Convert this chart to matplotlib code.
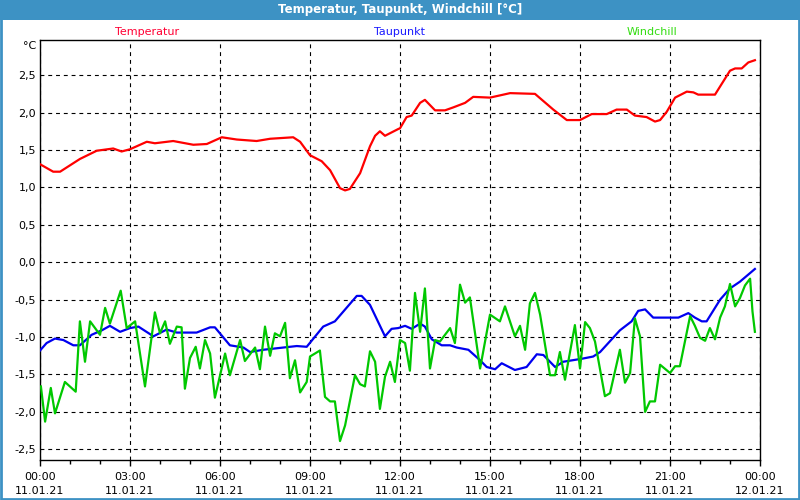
import matplotlib
matplotlib.use("Agg")
import matplotlib.pyplot as plt
from matplotlib.patches import Rectangle
from matplotlib.ticker import FixedLocator, MultipleLocator, FuncFormatter

# Stunden seit 11.01.21 00:00 und Werte in °C
temp_h = [0.0, 0.44, 0.67, 1.33, 1.89, 2.44, 2.72, 3.0, 3.56, 3.83, 4.44, 5.11, 5.56,
          6.06, 6.56, 7.22, 7.67, 8.44, 8.67, 9.0, 9.39, 9.67, 10.0, 10.17, 10.33,
          10.67, 11.0, 11.17, 11.33, 11.5, 11.94, 12.0, 12.22, 12.39, 12.67, 12.83,
          13.17, 13.5, 13.78, 14.17, 14.44, 15.0, 15.67, 16.5, 17.11, 17.56, 18.0,
          18.39, 18.89, 19.22, 19.56, 19.83, 20.22, 20.5, 20.67, 20.89, 21.17, 21.56,
          21.78, 21.94, 22.5, 23.0, 23.17, 23.39, 23.61, 23.83]
temp_v = [1.31, 1.21, 1.21, 1.38, 1.49, 1.52, 1.48, 1.51, 1.61, 1.59, 1.62, 1.57, 1.58,
          1.67, 1.64, 1.62, 1.65, 1.67, 1.61, 1.43, 1.35, 1.23, 0.99, 0.96, 0.98,
          1.19, 1.55, 1.69, 1.75, 1.69, 1.78, 1.79, 1.94, 1.96, 2.13, 2.17,
          2.03, 2.03, 2.07, 2.13, 2.21, 2.20, 2.26, 2.25, 2.04, 1.90, 1.90,
          1.98, 1.98, 2.04, 2.04, 1.96, 1.94, 1.88, 1.90, 2.01, 2.20, 2.28,
          2.27, 2.24, 2.24, 2.56, 2.59, 2.59, 2.67, 2.70]

taup_h = [0.0, 0.22, 0.5, 0.78, 1.11, 1.33, 1.72, 2.06, 2.33, 2.67, 3.0, 3.28, 3.78,
          4.22, 4.56, 5.22, 5.67, 5.83, 6.33, 6.78, 7.0, 7.44, 8.11, 8.56, 8.89,
          9.44, 9.83, 10.56, 10.72, 11.0, 11.5, 11.72, 11.94, 12.17, 12.39, 12.67,
          12.83, 13.06, 13.39, 13.67, 13.89, 14.28, 14.67, 14.89, 15.17, 15.39, 15.83,
          16.22, 16.56, 16.78, 17.17, 17.44, 18.06, 18.44, 18.67, 19.33, 19.72, 19.94,
          20.17, 20.44, 20.78, 21.28, 21.61, 21.83, 22.06, 22.22, 22.67, 23.0, 23.33,
          23.83]
taup_v = [-1.18, -1.08, -1.02, -1.04, -1.11, -1.11, -0.97, -0.91, -0.85, -0.93, -0.88,
          -0.86, -0.99, -0.90, -0.94, -0.94, -0.87, -0.87, -1.11, -1.14, -1.20, -1.17,
          -1.14, -1.12, -1.13, -0.86, -0.79, -0.45, -0.45, -0.57, -0.99, -0.89, -0.88,
          -0.85, -0.89, -0.82, -0.86, -1.03, -1.11, -1.11, -1.14, -1.17, -1.31, -1.40,
          -1.43, -1.35, -1.44, -1.40, -1.23, -1.24, -1.40, -1.33, -1.29, -1.26, -1.20,
          -0.91, -0.79, -0.65, -0.63, -0.74, -0.74, -0.74, -0.68, -0.74, -0.79, -0.79,
          -0.50, -0.35, -0.26, -0.09]

wind_h = [0.03, 0.17, 0.36, 0.5, 0.83, 1.19, 1.33, 1.5, 1.67, 2.0, 2.17, 2.33, 2.69,
          2.89, 3.17, 3.5, 3.83, 4.0, 4.17, 4.33, 4.56, 4.72, 4.83, 5.0, 5.19, 5.33,
          5.5, 5.67, 5.83, 6.17, 6.33, 6.67, 6.83, 7.17, 7.33, 7.5, 7.67, 7.83, 8.0,
          8.17, 8.33, 8.5, 8.67, 8.89, 9.0, 9.33, 9.5, 9.67, 9.83, 10.0, 10.17, 10.5,
          10.67, 10.83, 11.0, 11.17, 11.33, 11.5, 11.67, 11.83, 12.0, 12.17, 12.33,
          12.5, 12.67, 12.83, 13.0, 13.17, 13.33, 13.67, 13.83, 14.0, 14.17, 14.33,
          14.67, 15.0, 15.33, 15.5, 15.83, 16.0, 16.17, 16.33, 16.5, 16.67, 17.0,
          17.17, 17.33, 17.5, 17.83, 18.0, 18.17, 18.33, 18.5, 18.83, 19.0, 19.33,
          19.5, 19.67, 19.83, 20.0, 20.17, 20.33, 20.5, 20.67, 21.0, 21.17, 21.33,
          21.67, 21.83, 22.0, 22.17, 22.33, 22.5, 22.67, 22.83, 23.0, 23.17, 23.33,
          23.5, 23.67, 23.75, 23.83]
wind_v = [-1.66, -2.13, -1.68, -2.02, -1.60, -1.73, -0.79, -1.33, -0.79, -0.97, -0.61,
          -0.82, -0.38, -0.88, -0.79, -1.66, -0.67, -0.95, -0.79, -1.09, -0.86, -0.87,
          -1.69, -1.28, -1.13, -1.42, -1.04, -1.22, -1.81, -1.22, -1.51, -1.04, -1.32,
          -1.14, -1.43, -0.86, -1.25, -0.95, -0.99, -0.81, -1.55, -1.31, -1.74, -1.60,
          -1.26, -1.18, -1.80, -1.86, -1.86, -2.39, -2.18, -1.51, -1.63, -1.66, -1.19,
          -1.33, -1.96, -1.53, -1.33, -1.60, -1.04, -1.08, -1.45, -0.41, -0.93, -0.35,
          -1.42, -1.04, -1.06, -0.88, -1.08, -0.30, -0.54, -0.47, -1.42, -0.70, -0.79,
          -0.59, -0.99, -0.85, -1.17, -0.55, -0.41, -0.70, -1.51, -1.51, -1.20, -1.57,
          -0.84, -1.42, -0.80, -0.88, -1.06, -1.79, -1.75, -1.17, -1.61, -1.48, -0.75,
          -0.99, -2.00, -1.86, -1.86, -1.37, -1.48, -1.39, -1.39, -0.72, -0.85, -1.01,
          -1.05, -0.88, -1.03, -0.74, -0.59, -0.29, -0.59, -0.48, -0.31, -0.22, -0.66,
          -0.93]

x_ticks = [0, 3, 6, 9, 12, 15, 18, 21, 24]
x_labels = ["00:00\n11.01.21", "03:00\n11.01.21", "06:00\n11.01.21", "09:00\n11.01.21",
            "12:00\n11.01.21", "15:00\n11.01.21", "18:00\n11.01.21", "21:00\n11.01.21",
            "00:00\n12.01.21"]
y_ticks = [-2.5, -2.0, -1.5, -1.0, -0.5, 0.0, 0.5, 1.0, 1.5, 2.0, 2.5]

plt.rcParams["font.family"] = ["DejaVu Sans"]

fig = plt.figure(figsize=(8, 5), dpi=100)
fig.patch.set_facecolor("white")

# Titelleiste und Rahmen
fig.patches.append(Rectangle((0, 1 - 20 / 500), 1, 20 / 500, transform=fig.transFigure,
                             facecolor="#3d92c4", edgecolor="none", zorder=0))
fig.patches.append(Rectangle((0.0015, 0.002), 0.997, 0.996, transform=fig.transFigure,
                             facecolor="none", edgecolor="#3d92c4", lw=2.0, zorder=0))
fig.text(0.5, 1 - 10 / 500, "Temperatur, Taupunkt, Windchill [°C]", color="white",
         fontsize=8.5, fontweight="bold", ha="center", va="center")

ax = fig.add_axes([40 / 800, 1 - 460 / 500, 720 / 800, 420 / 500])

ax.plot(temp_h, temp_v, color="#ff0000", lw=1.6, zorder=3)
ax.plot(taup_h, taup_v, color="#0000f0", lw=1.6, zorder=3)
ax.plot(wind_h, wind_v, color="#00c800", lw=1.6, zorder=4)

ax.set_xlim(0, 24)
ax.set_ylim(-2.643, 2.97)

ax.xaxis.set_major_locator(FixedLocator(x_ticks))
ax.xaxis.set_minor_locator(MultipleLocator(1))
ax.set_xticklabels(x_labels)
ax.yaxis.set_major_locator(FixedLocator(y_ticks))
ax.yaxis.set_major_formatter(FuncFormatter(lambda v, p: f"{v:.1f}".replace(".", ",")))

ax.tick_params(axis="x", which="major", length=4, width=1, direction="out",
               labelsize=8, pad=5)
ax.tick_params(axis="x", which="minor", length=3, width=1, direction="out")
ax.tick_params(axis="y", length=0, labelsize=8, pad=3)
for lab in ax.get_xticklabels():
    lab.set_linespacing(1.5)

ax.grid(True, which="major", color="black", lw=0.8, linestyle=(0, (3.5, 3.5)))
for s in ax.spines.values():
    s.set_linewidth(1.0)

# Legende über dem Plot
fig.text(147 / 800, 1 - 32 / 500, "Temperatur", color="#ff0033", fontsize=8,
         ha="center", va="center")
fig.text(399 / 800, 1 - 32 / 500, "Taupunkt", color="#1a1aff", fontsize=8,
         ha="center", va="center")
fig.text(652 / 800, 1 - 32 / 500, "Windchill", color="#33dd11", fontsize=8,
         ha="center", va="center")
fig.text(36 / 800, 1 - 46 / 500, "°C", color="black", fontsize=8,
         ha="right", va="center")

fig.savefig("out.png", dpi=100)
